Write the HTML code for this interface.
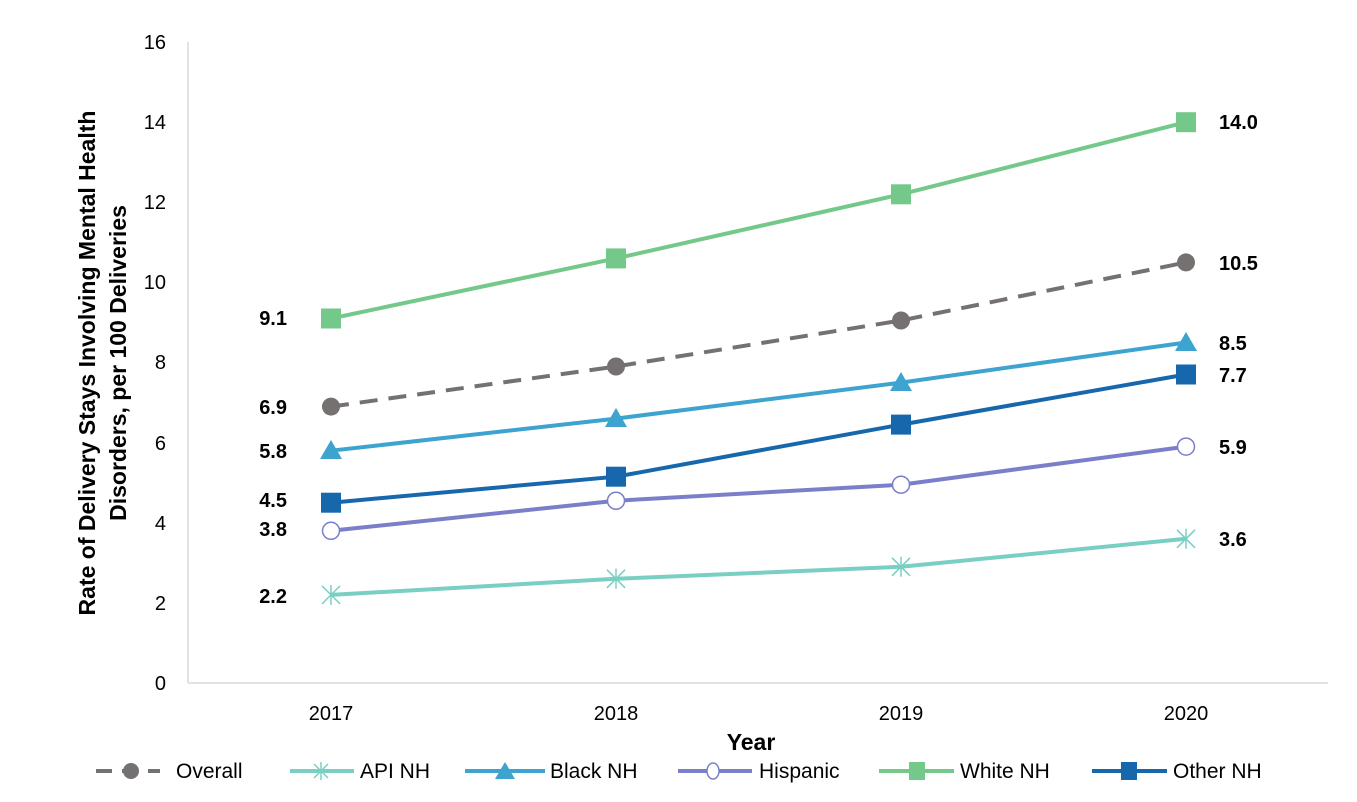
<!DOCTYPE html><html><head><style>body{margin:0;background:#fff}svg{font-family:"Liberation Sans",Arial,sans-serif}</style></head><body>
<svg width="1357" height="797" xmlns="http://www.w3.org/2000/svg">
<g stroke="#d9d9d9" stroke-width="1.5"><line x1="188" y1="42" x2="188" y2="683"/><line x1="188" y1="683" x2="1328" y2="683"/></g>
<g font-size="20" fill="#000" text-anchor="end">
<text x="166" y="690">0</text><text x="166" y="610">2</text><text x="166" y="530">4</text><text x="166" y="450">6</text><text x="166" y="369">8</text><text x="166" y="289">10</text><text x="166" y="209">12</text><text x="166" y="129">14</text><text x="166" y="49">16</text></g>
<g font-size="20" text-anchor="middle"><text x="331" y="720">2017</text><text x="616" y="720">2018</text><text x="901" y="720">2019</text><text x="1186" y="720">2020</text></g>
<text x="751" y="750" font-size="23" font-weight="bold" text-anchor="middle">Year</text>
<g font-size="23" font-weight="bold" text-anchor="middle"><text transform="translate(95,363) rotate(-90)">Rate of Delivery Stays Involving Mental Health</text><text transform="translate(126,363) rotate(-90)">Disorders, per 100 Deliveries</text></g>
<polyline points="331,318.5 616,258.4 901,194.3 1186,122.2" fill="none" stroke="#74c98a" stroke-width="4"/>
<g fill="#74c98a"><rect x="321" y="308.5" width="20" height="20"/><rect x="606" y="248.4" width="20" height="20"/><rect x="891" y="184.3" width="20" height="20"/><rect x="1176" y="112.2" width="20" height="20"/></g>
<polyline points="331,406.6 616,366.5 901,320.5 1186,262.4" fill="none" stroke="#767171" stroke-width="4" stroke-dasharray="18,11"/>
<g fill="#767171"><circle cx="331" cy="406.6" r="9"/><circle cx="616" cy="366.5" r="9"/><circle cx="901" cy="320.5" r="9"/><circle cx="1186" cy="262.4" r="9"/></g>
<polyline points="331,450.7 616,418.6 901,382.6 1186,342.5" fill="none" stroke="#3da3cf" stroke-width="4"/>
<g fill="#3da3cf"><polygon points="331,440 342,459 320,459"/><polygon points="616,408 627,427 605,427"/><polygon points="901,372 912,391 890,391"/><polygon points="1186,332 1197,351 1175,351"/></g>
<polyline points="331,502.7 616,476.7 901,424.6 1186,374.5" fill="none" stroke="#1767ad" stroke-width="4"/>
<g fill="#1767ad"><rect x="321" y="492.7" width="20" height="20"/><rect x="606" y="466.7" width="20" height="20"/><rect x="891" y="414.6" width="20" height="20"/><rect x="1176" y="364.5" width="20" height="20"/></g>
<polyline points="331,530.8 616,500.7 901,484.7 1186,446.6" fill="none" stroke="#7b7fc9" stroke-width="4"/>
<g fill="#fff" stroke="#7b7fc9" stroke-width="1.5"><circle cx="331" cy="530.8" r="8.5"/><circle cx="616" cy="500.7" r="8.5"/><circle cx="901" cy="484.7" r="8.5"/><circle cx="1186" cy="446.6" r="8.5"/></g>
<polyline points="331,594.9 616,578.8 901,566.8 1186,538.8" fill="none" stroke="#79cfc4" stroke-width="4"/>
<g stroke="#79cfc4" stroke-width="1.5">
<path d="M322,585.9l18,18M340,585.9l-18,18M331,584.9v20"/><path d="M607,569.8l18,18M625,569.8l-18,18M616,568.8v20"/><path d="M892,557.8l18,18M910,557.8l-18,18M901,556.8v20"/><path d="M1177,529.8l18,18M1195,529.8l-18,18M1186,528.8v20"/></g>
<g font-size="20" font-weight="bold" text-anchor="end"><text x="287" y="325">9.1</text><text x="287" y="414">6.9</text><text x="287" y="458">5.8</text><text x="287" y="507">4.5</text><text x="287" y="536">3.8</text><text x="287" y="603">2.2</text></g>
<g font-size="20" font-weight="bold"><text x="1219" y="129">14.0</text><text x="1219" y="270">10.5</text><text x="1219" y="350">8.5</text><text x="1219" y="382">7.7</text><text x="1219" y="454">5.9</text><text x="1219" y="546">3.6</text></g>
<g font-size="21">
<line x1="96" y1="771" x2="160" y2="771" stroke="#767171" stroke-width="4" stroke-dasharray="16,10"/><circle cx="131" cy="771" r="8" fill="#767171"/><text x="176" y="778">Overall</text>
<line x1="290" y1="771" x2="354" y2="771" stroke="#79cfc4" stroke-width="4"/><path d="M314,764l14,14M328,764l-14,14M321,762v18" stroke="#79cfc4" stroke-width="1.5"/><text x="360" y="778">API NH</text>
<line x1="465" y1="771" x2="545" y2="771" stroke="#3da3cf" stroke-width="4"/><polygon points="505,762 515,779 495,779" fill="#3da3cf"/><text x="550" y="778">Black NH</text>
<line x1="678" y1="771" x2="752" y2="771" stroke="#7b7fc9" stroke-width="4"/><ellipse cx="713" cy="771" rx="6" ry="8" fill="#fff" stroke="#7b7fc9" stroke-width="1.5"/><text x="759" y="778">Hispanic</text>
<line x1="879" y1="771" x2="954" y2="771" stroke="#74c98a" stroke-width="4"/><rect x="909" y="762" width="16" height="18" fill="#74c98a"/><text x="960" y="778">White NH</text>
<line x1="1092" y1="771" x2="1167" y2="771" stroke="#1767ad" stroke-width="4"/><rect x="1121" y="762" width="16" height="18" fill="#1767ad"/><text x="1173" y="778">Other NH</text>
</g>
</svg></body></html>
